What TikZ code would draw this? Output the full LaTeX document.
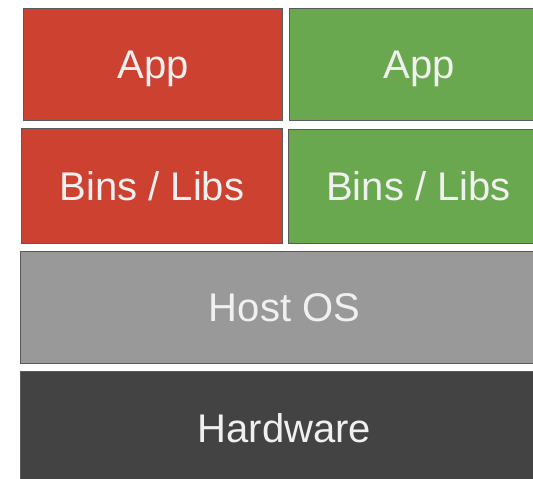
\documentclass[tikz,border=0pt]{standalone}
\usepackage{fontspec}
\setmainfont{Liberation Sans}
\definecolor{edge}{HTML}{5A5A5A}
\definecolor{label}{HTML}{F0F0F0}
\definecolor{appred}{HTML}{CC4130}
\definecolor{appgreen}{HTML}{6AA84F}
\definecolor{osgray}{HTML}{999999}
\definecolor{hwdark}{HTML}{434343}
\begin{document}
\begin{tikzpicture}[x=1pt,y=-1pt,
  every node/.style={text=label,font=\fontsize{40}{48}\selectfont,inner sep=0pt,
    text height=28.6pt,text depth=0pt},
  layer/.style={draw=edge,line width=1pt,anchor=north west,minimum height=#1},
  half/.style={minimum width=259pt},
  full/.style={minimum width=528pt}]

\useasboundingbox (0,0) rectangle (533,479);
\clip (0,0) rectangle (533,479);

% Two containers side by side on the shared host.
\node[layer=112pt,half,fill=appred] (redapp) at (23,8) {App};
\node[layer=112pt,half,fill=appgreen] (greenapp) at (289,8) {App};
\node[layer=115pt,minimum width=261pt,fill=appred] (redbins) at (21,128) {Bins / Libs};
\node[layer=114pt,minimum width=260pt,fill=appgreen] (greenbins) at (288,129) {Bins / Libs};

\node[layer=112pt,full,fill=osgray] (hostos) at (20,251) {Host OS};
\node[layer=114pt,full,fill=hwdark] (hardware) at (20,371) {Hardware};
\end{tikzpicture}
\end{document}
